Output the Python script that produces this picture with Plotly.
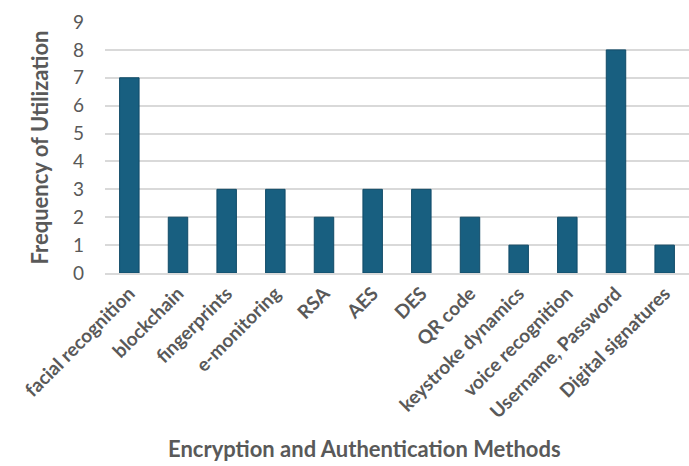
import plotly.graph_objects as go

methods = [
    "facial recognition", "blockchain", "fingerprints", "e-monitoring", "RSA",
    "AES", "DES", "QR code", "keystroke dynamics", "voice recognition",
    "Username, Password", "Digital signatures",
]
frequency = [7, 2, 3, 3, 2, 3, 3, 2, 1, 2, 8, 1]
y_ticks = list(range(0, 10))

FONT = "Lato, 'Open Sans', sans-serif"
GREY = "#595959"

fig = go.Figure(
    go.Bar(
        x=methods,
        y=frequency,
        marker=dict(color="#185f80", line=dict(color="#114b67", width=1)),
        width=0.4,
    )
)

fig.update_layout(
    width=689,
    height=466,
    margin=dict(l=105, r=0, t=22, b=193),
    paper_bgcolor="white",
    plot_bgcolor="white",
    showlegend=False,
    font=dict(family=FONT, color=GREY),
)

fig.update_xaxes(
    tickangle=-45,
    tickfont=dict(size=19, family=FONT, color=GREY, weight="bold"),
    showgrid=False,
    showline=True,
    linecolor="#d9d9d9",
    linewidth=2,
    ticks="",
    automargin=False,
)

# x-axis title, centred under the whole chart rather than the plot area
fig.add_annotation(
    text="Encryption and Authentication Methods",
    xref="paper", yref="paper",
    x=0.445, y=-0.755,
    xanchor="center", yanchor="bottom",
    borderpad=0,
    showarrow=False,
    font=dict(size=22, family=FONT, color=GREY, weight="bold"),
)

fig.update_yaxes(
    range=[0, 9],
    tickvals=y_ticks,
    tickfont=dict(size=19, family=FONT, color=GREY),
    showgrid=True,
    gridcolor="#d9d9d9",
    gridwidth=2,
    zeroline=False,
    ticks="",
    ticklabelstandoff=20,
    automargin=False,
    title=dict(
        text="Frequency of Utilization",
        font=dict(size=22, family=FONT, color=GREY, weight="bold"),
        standoff=18,
    ),
)

fig.write_html("out.html")
